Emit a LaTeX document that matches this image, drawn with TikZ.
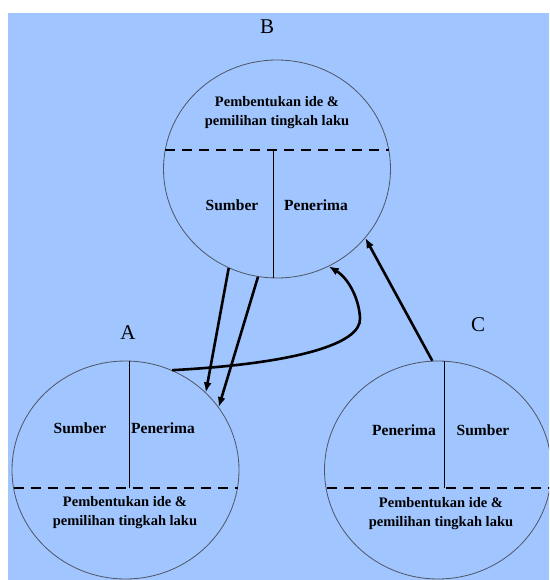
\documentclass[tikz,border=0pt]{standalone}
\usepackage{fontspec}
\setmainfont{Liberation Serif}
\usetikzlibrary{shapes.geometric,arrows.meta,calc}
\definecolor{sky}{RGB}{160,197,255}
\definecolor{rim}{RGB}{80,85,100}

\begin{document}
\begin{tikzpicture}[x=1pt,y=-1pt,
  actor/.style={ellipse, draw=rim, line width=0.8pt, minimum width=227pt, minimum height=218pt, inner sep=0pt},
  split/.style={line width=2.6pt, dash pattern=on 10pt off 7pt},
  divider/.style={line width=0.9pt},
  part/.style={font=\fontsize{15.5}{18}\selectfont\bfseries},
  idea/.style={font=\fontsize{14.5}{19}\selectfont\bfseries, align=center},
  tag/.style={font=\fontsize{21}{24}\selectfont},
  flow/.style={line width=2.6pt, -{Latex[length=10pt,width=8pt]}}]

% page and panel
\useasboundingbox (0,0) rectangle (549,580);
\fill[white] (0,0) rectangle (549,580);
\fill[sky] (8,13) rectangle (549,580);

\begin{scope}
\clip (0,0) rectangle (549,580);

% the three actors
\node[actor] (B) at (277,169) {};
\node[actor] (A) at (125.5,470) {};
\node[actor] (C) at (438,470) {};

% B: idea on top, roles below
\draw[split] ($(B)+(-112,-19)$) -- ($(B)+(112,-19)$);
\draw[divider] ($(B)+(-4,-19)$) -- ($(B)+(-4,109)$);
\node[idea] (Bidea) at (277,113) {Pembentukan ide \&\\pemilihan tingkah laku};
\node[part] (Bsrc) at (232,205) {Sumber};
\node[part] (Brec) at (316,205) {Penerima};

% A: roles on top, idea below
\draw[split] ($(A)+(-112,18)$) -- ($(A)+(112,18)$);
\draw[divider] ($(A)+(3.5,-109)$) -- ($(A)+(3.5,18)$);
\node[idea] (Aidea) at (125,513) {Pembentukan ide \&\\pemilihan tingkah laku};
\node[part] (Asrc) at (80,428) {Sumber};
\node[part] (Arec) at (163,428) {Penerima};

% C: roles on top, idea below
\draw[split] ($(C)+(-111,18)$) -- ($(C)+(115,18)$);
\draw[divider] ($(C)+(6,-109)$) -- ($(C)+(6,18)$);
\node[idea] (Cidea) at (441,514) {Pembentukan ide \&\\pemilihan tingkah laku};
\node[part] (Crec) at (404,430) {Penerima};
\node[part] (Csrc) at (483,430) {Sumber};
\end{scope}

% labels
\node[tag] (Btag) at (267,27) {B};
\node[tag] (Atag) at (128,333) {A};
\node[tag] (Ctag) at (478,325) {C};

% message flows
\draw[flow] (B.244) -- (A.44);
\draw[flow] (B.260) -- (A.34);
\draw[flow] (A.65) .. controls (290,364) and (362,345) .. (360,318)
                   .. controls (359,298) and (348,278) .. (B.298);
\draw[flow] (C.93) -- (B.322);
\end{tikzpicture}
\end{document}
